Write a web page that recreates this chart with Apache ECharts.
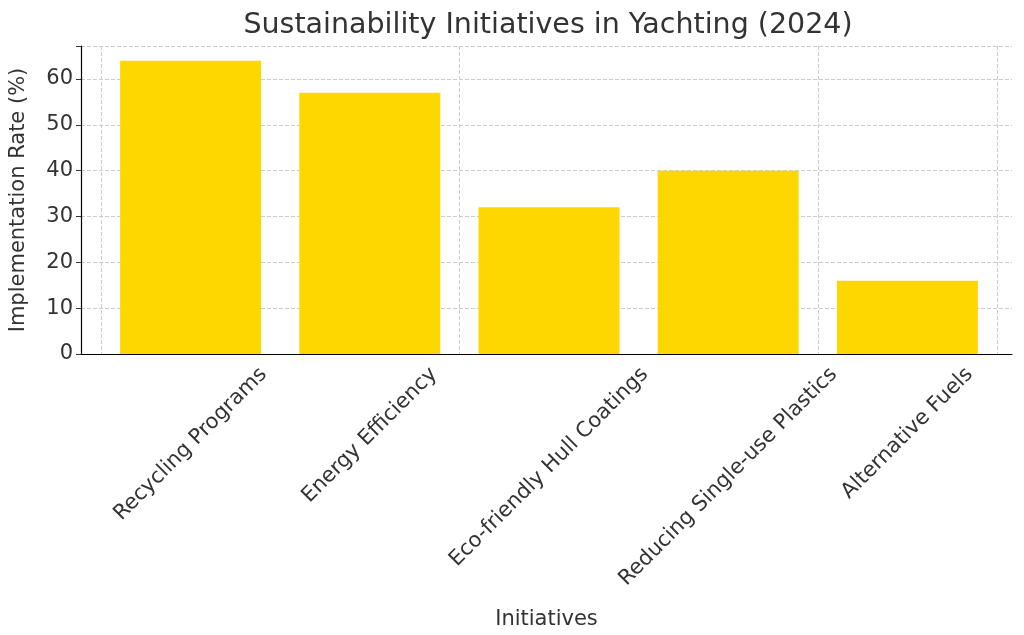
<!DOCTYPE html>
<html><head><meta charset="utf-8">
<script src="https://cdn.jsdelivr.net/npm/echarts@6/dist/echarts.min.js"></script>
<style>html,body{margin:0;padding:0;background:#fff}#c{width:1024px;height:635px}</style>
</head><body><div id="c"></div>
<script>
const categories = ["Recycling Programs","Energy Efficiency","Eco-friendly Hull Coatings","Reducing Single-use Plastics","Alternative Fuels"];
const values = [64, 57, 32, 40, 16];
const yTicks = [0,10,20,30,40,50,60];
const chart = echarts.init(document.getElementById('c'));
const font = 'DejaVu Sans';
const fs = 21;
const yAx = (gi, show) => ({type:'value',gridIndex:gi,min:0,max:67.2,interval:10,
  name: show?'Implementation Rate (%)':'',nameLocation:'middle',nameGap:52,
  nameTextStyle:{fontFamily:font,fontSize:fs,color:'#333'},
  axisLine:{show:show,lineStyle:{color:'#000',width:1.2}},
  axisTick:{show:show,length:5,lineStyle:{color:'#333'}},
  axisLabel:{show:show,fontFamily:font,fontSize:fs,color:'#333',formatter:v=>yTicks.includes(v)?String(v):''},
  splitLine:{show:show,lineStyle:{type:'dashed',color:'#ccc'}}});
chart.setOption({
  animation:false,
  title:{text:'Sustainability Initiatives in Yachting (2024)',left:543,textAlign:'center',top:6,
    textStyle:{fontFamily:font,fontSize:28.5,fontWeight:'normal',color:'#333'}},
  grid:[{left:75,right:12,top:46,bottom:281},{left:101,right:27,top:46,bottom:281}],
  xAxis:[{type:'value',gridIndex:0,min:0,max:1,name:'Initiatives',nameLocation:'middle',nameGap:255,
    nameTextStyle:{fontFamily:font,fontSize:fs,color:'#333'},
    axisLine:{lineStyle:{color:'#000',width:1.2}},axisTick:{show:false},axisLabel:{show:false},splitLine:{show:false}},
   {type:'category',gridIndex:1,data:categories,axisLine:{show:false},
    axisTick:{alignWithLabel:true,length:5,lineStyle:{color:'#333'}},
    axisLabel:{show:false},
    splitLine:{show:true,lineStyle:{type:'dashed',color:'#ccc'}}}],
  yAxis:[yAx(0,true),yAx(1,false)],
  series:[{type:'bar',xAxisIndex:1,yAxisIndex:1,data:values,barWidth:141,itemStyle:{color:'#FFD700'}}]
});
// rotated category labels, centered under each tick (positions from the axis scale)
const ctx = document.createElement('canvas').getContext('2d');
ctx.font = fs+'px "'+font+'"';
const y0 = chart.convertToPixel({yAxisIndex:1}, 0);
const texts = categories.map((c,i)=>{
  const px = chart.convertToPixel({xAxisIndex:1}, c);
  const L = ctx.measureText(c).width;
  const h = (L + fs*1.1) * Math.SQRT1_2;
  return {type:'text',x:px,y:y0+9+h/2,rotation:Math.PI/4,
    style:{text:c,fontFamily:font,fontSize:fs,fill:'#333',align:'center',verticalAlign:'middle'}};
});
chart.setOption({graphic:texts});
</script></body></html>
